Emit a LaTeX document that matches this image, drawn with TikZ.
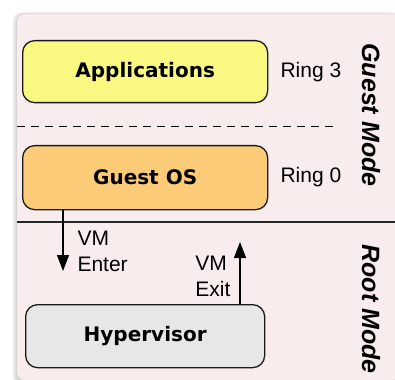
\documentclass[tikz,border=0pt]{standalone}
\usepackage{fontspec}
\setmainfont{Liberation Sans}
\newfontfamily\boxfont{DejaVu Sans}
\usetikzlibrary{arrows.meta}
\definecolor{panelbg}{HTML}{F8ECEC}
\definecolor{appfill}{HTML}{F9F982}
\definecolor{osfill}{HTML}{FBCB78}
\definecolor{hvfill}{HTML}{E7E7E7}
\definecolor{shadowc}{HTML}{9A9696}
\tikzset{
  x=1pt, y=-1pt,
  layerbox/.style={draw=black!90, line width=1.3pt, rounded corners=12pt},
  boxlabel/.style={font=\boxfont\bfseries\fontsize{20}{24}\selectfont},
  ringlabel/.style={font=\fontsize{21}{25}\selectfont, anchor=west},
  modelabel/.style={font=\bfseries\itshape\fontsize{25}{29}\selectfont, rotate=-90},
  arrowlabel/.style={font=\fontsize{21}{26}\selectfont, align=left},
  transition/.style={line width=1.3pt, -{Triangle[length=16pt,width=12pt]}}
}
\begin{document}
\begin{tikzpicture}
\useasboundingbox (0,0) rectangle (395,379);
% soft panel shadow and background
\foreach \d/\o in {5/0.06,4/0.08,3/0.10,2/0.12,1/0.14}{
  \fill[shadowc, opacity=\o, rounded corners=9pt] (17-\d,14-\d*0.4) rectangle (400,384);
}
\fill[panelbg, rounded corners=8pt] (17,14) rectangle (400,380);
% boxes
\node[layerbox, fill=appfill, minimum width=245pt, minimum height=62pt, anchor=north west] (apps) at (22,40) {};
\node[boxlabel] at (apps.center) {Applications};
\node[layerbox, fill=osfill, minimum width=245pt, minimum height=64pt, anchor=north west] (gos) at (22,145) {};
\node[boxlabel] at (gos.center) {Guest OS};
\node[layerbox, fill=hvfill, minimum width=239pt, minimum height=63pt, anchor=north west] (hv) at (25,304) {};
\node[boxlabel] at (hv.center) {Hypervisor};
% ring labels
\node[ringlabel] (r3) at (277,72) {Ring 3};
\node[ringlabel] (r0) at (277,177) {Ring 0};
% separators
\coordinate (dl) at (17,127);
\coordinate (dr) at (337,127);
\draw[line width=1pt, dash pattern=on 8pt off 6pt] (dl) -- (dr);
\coordinate (sl) at (17,222);
\coordinate (sr) at (395,222);
\draw[line width=1.4pt, black!85] (sl) -- (sr);
% mode labels
\node[modelabel] (gm) at (371,115) {Guest Mode};
\node[modelabel] (rm) at (371,309) {Root Mode};
% transitions
\coordinate (enterend) at (63,271);
\draw[transition] (gos.south -| enterend) -- (enterend);
\node[arrowlabel, anchor=north west] (vmenter) at (74,228) {VM\\Enter};
\coordinate (exitend) at (240,242);
\draw[transition] (hv.north -| exitend) -- (exitend);
\node[arrowlabel, anchor=north east, align=left] (vmexit) at (234,253) {VM\\Exit};
\end{tikzpicture}
\end{document}
